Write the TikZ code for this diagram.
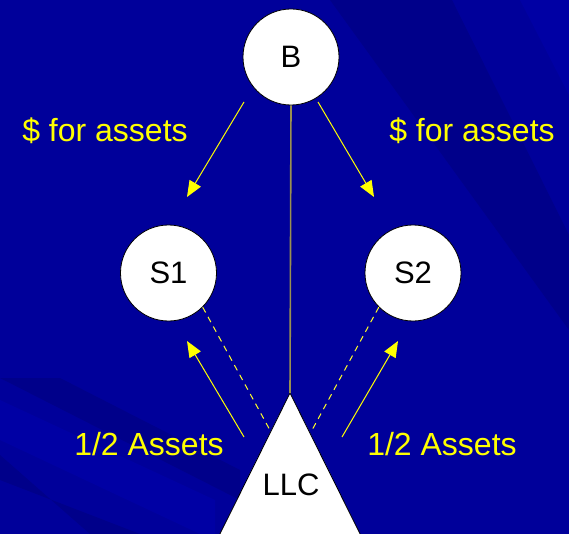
\documentclass[tikz,border=0pt]{standalone}
\usepackage{fontspec}
\setmainfont{Liberation Sans}
\usetikzlibrary{arrows.meta}
\definecolor{bgblue}{HTML}{00009A}
\definecolor{bgdark}{HTML}{00008A}
\definecolor{bglight}{HTML}{0000A4}
\definecolor{olive}{HTML}{9A9050}
\definecolor{ylw}{HTML}{FFFF00}
\tikzset{
  party/.style={circle, draw=black, line width=0.8pt, fill=white, minimum size=96pt, inner sep=0pt, font=\fontsize{31}{36}\selectfont},
  lbl/.style={text=ylw, font=\fontsize{32}{36}\selectfont, anchor=base, inner sep=0pt},
  flow/.style={draw=ylw, line width=1pt, -{Triangle[length=16pt,width=13pt]}},
  link/.style={draw=ylw!85!white, line width=1pt, dash pattern=on 6pt off 5pt},
  own/.style={draw=olive, line width=1.6pt}
}
\begin{document}
\begin{tikzpicture}[x=1pt,y=-1pt]
\useasboundingbox (0,0) rectangle (569,534);
\begin{scope}
\clip (0,0) rectangle (569,534);
\fill[bgblue] (0,0) rectangle (569,534);
% top-right streaks
\fill[bgdark] (330,0) -- (452,0) -- (569,235) -- (569,330) -- cycle;
\fill[bglight] (520,0) -- (569,0) -- (569,95) -- cycle;
% bottom-left streaks
\fill[bgdark] (0,378) -- (60,378) -- (240,470) -- (240,500) -- cycle;
\fill[bgdark] (0,455) -- (0,480) -- (140,534) -- (90,534) -- cycle;
\fill[bglight] (0,400) -- (0,440) -- (200,534) -- (215,534) -- (215,500) -- cycle;

% LLC triangle
\coordinate (apex) at (290,393);
\fill[white, draw=black, line width=0.8pt] (apex) -- (373,560) -- (207,560) -- cycle;
\end{scope}

\node[party] (B) at (291,57) {B};
\node[party] (S1) at (168.5,273) {S1};
\node[party] (S2) at (413,273) {S2};
\node[font=\fontsize{31}{36}\selectfont, anchor=base, inner sep=0pt] (LLC) at (291,495) {LLC};

\draw[own] (B.south) -- (apex);

\coordinate (b1) at (244,102);
\coordinate (t1) at (187,197);
\coordinate (b2) at (318,102);
\coordinate (t2) at (374,197);
\draw[flow] (b1) -- (t1);
\draw[flow] (b2) -- (t2);

\coordinate (l1) at (244,437);
\coordinate (u1) at (187,341);
\coordinate (l2) at (342,437);
\coordinate (u2) at (398,341);
\draw[flow] (l1) -- (u1);
\draw[flow] (l2) -- (u2);

\coordinate (d1) at (271,432);
\coordinate (d2) at (311,432);
\draw[link] (S1.-45) -- (d1);
\draw[link] (S2.-135) -- (d2);

\node[lbl] (p1) at (105,142) {\$ for assets};
\node[lbl] (p2) at (472,142) {\$ for assets};
\node[lbl] (h1) at (149,455) {1/2 Assets};
\node[lbl] (h2) at (442,455) {1/2 Assets};
\end{tikzpicture}
\end{document}
